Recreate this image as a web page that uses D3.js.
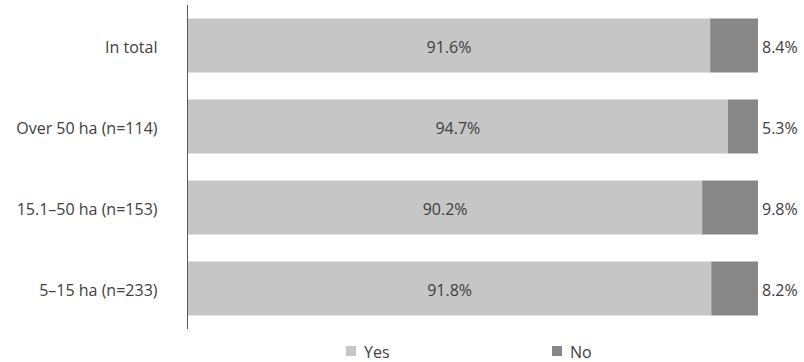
<!DOCTYPE html>
<html>
<head>
<meta charset="utf-8">
<script src="https://cdn.jsdelivr.net/npm/d3@7"></script>
<style>
body { margin: 0; background: #fff; }
text { font-family: "Open Sans", "Noto Sans", sans-serif; fill: #404040; }
</style>
</head>
<body>
<div id="chart"></div>
<script>
// categories top to bottom and their shares
var categories = ["In total", "Over 50 ha (n=114)", "15.1–50 ha (n=153)", "5–15 ha (n=233)"];
var yesValues = [91.6, 94.7, 90.2, 91.8];
var noValues = [8.4, 5.3, 9.8, 8.2];
var seriesNames = ["Yes", "No"];

var width = 804, height = 362;
var colour = {Yes: "#c6c6c6", No: "#878787"};
var fontSize = "16px";

var svg = d3.select("#chart")
    .append("svg")
    .attr("width", width)
    .attr("height", height);

var x = d3.scaleLinear()
    .domain([0, 100])
    .range([188, 758]);

var y = d3.scaleBand()
    .domain(categories)
    .range([5, 329])
    .paddingInner(1 / 3)
    .paddingOuter(1 / 6);

var rows = categories.map(function (c, i) {
    return {cat: c, yes: yesValues[i], no: noValues[i]};
});

// yes part
svg.selectAll(".bar_yes")
    .data(rows)
    .join("rect")
    .attr("class", "bar_yes")
    .attr("x", x(0))
    .attr("y", function (d) { return y(d.cat); })
    .attr("width", function (d) { return x(d.yes) - x(0); })
    .attr("height", y.bandwidth())
    .style("fill", colour.Yes);

// no part
svg.selectAll(".bar_no")
    .data(rows)
    .join("rect")
    .attr("class", "bar_no")
    .attr("x", function (d) { return x(d.yes); })
    .attr("y", function (d) { return y(d.cat); })
    .attr("width", function (d) { return x(d.yes + d.no) - x(d.yes); })
    .attr("height", y.bandwidth())
    .style("fill", colour.No);

// value labels
svg.selectAll(".lbl_yes")
    .data(rows)
    .join("text")
    .attr("class", "lbl_yes")
    .attr("text-anchor", "middle")
    .attr("x", function (d) { return (x(0) + x(d.yes)) / 2; })
    .attr("y", function (d) { return y(d.cat) + y.bandwidth() / 2 + 7.5; })
    .style("font-size", fontSize)
    .text(function (d) { return d.yes.toFixed(1) + "%"; });

svg.selectAll(".lbl_no")
    .data(rows)
    .join("text")
    .attr("class", "lbl_no")
    .attr("x", function (d) { return x(d.yes + d.no) + 4; })
    .attr("y", function (d) { return y(d.cat) + y.bandwidth() / 2 + 7.5; })
    .style("font-size", fontSize)
    .text(function (d) { return d.no.toFixed(1) + "%"; });

// y axis: just the line and the category names
var yAxis = svg.append("g")
    .attr("transform", "translate(" + 187.5 + ",0)")
    .call(d3.axisLeft(y).tickSize(0).tickPadding(30));
yAxis.select(".domain").attr("stroke", "#555").attr("d", "M0,5V329");
yAxis.selectAll("text")
    .attr("dy", null)
    .attr("y", 7)
    .style("font-size", fontSize)
    .style("font-family", "\"Open Sans\", sans-serif")
    .attr("fill", "#404040");

// legend
var legendX = [346, 552];
var legend = svg.selectAll(".legend")
    .data(seriesNames)
    .join("g")
    .attr("class", "legend")
    .attr("transform", function (d, i) { return "translate(" + legendX[i] + ",346)"; });
legend.append("rect")
    .attr("width", 10)
    .attr("height", 10)
    .style("fill", function (d) { return colour[d]; });
legend.append("text")
    .attr("x", 18)
    .attr("y", 12)
    .style("font-size", fontSize)
    .text(function (d) { return d; });
</script>
</body>
</html>
